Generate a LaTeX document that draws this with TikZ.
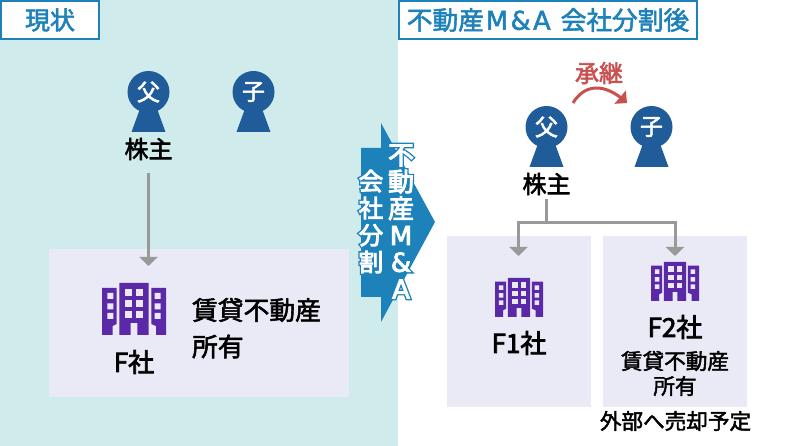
\documentclass[tikz,border=0pt]{standalone}
\usepackage{fontspec}
\usepackage{xcolor}
\usetikzlibrary{arrows.meta,bending}
\setmainfont{Noto Sans CJK JP}
\newfontfamily\latinwide{DejaVu Sans}
\definecolor{bgteal}{HTML}{D0EBEC}
\definecolor{frameblue}{HTML}{1E82BA}
\definecolor{boxlav}{HTML}{EAEAF6}
\definecolor{persblue}{HTML}{1F5C99}
\definecolor{bldpurple}{HTML}{5B28A8}
\definecolor{linegray}{HTML}{999999}
\definecolor{succred}{HTML}{C8504F}
% text drawn with a thin outline of its own colour, for a medium weight
\newcommand{\heavy}[2][0.55]{\special{pdf:code 2 Tr #1 w}#2\special{pdf:code 0 Tr}}
\tikzset{
  px/.style={inner sep=0pt,outer sep=0pt},
  lbl/.style={px,text=black,align=center},
  head/.style={px,fill=white,draw=frameblue,line width=2pt,text=frameblue,anchor=center},
  panel/.style={px,fill=boxlav,anchor=north west},
  perscircle/.style={circle,px,fill=persblue,text=white,minimum size=42pt,font=\fontsize{23}{23}\selectfont},
  flow/.style={draw=linegray,line width=3pt,-{Triangle[length=9pt,width=18pt]}},
  flowplain/.style={draw=linegray,line width=3pt},
  succ/.style={draw=succred,line width=3pt,-{Triangle[length=9pt,width=17pt]}},
  colword/.style={px,align=center,text=white},
}
\newcommand{\building}[3]{%
  \begin{scope}[shift={(#1,#2)},scale=#3]
    \fill[bldpurple] (0,5)--(14.7,5)--(14.7,41)--(10.7,43)--(10.7,52)--(0,52)--cycle;
    \fill[bldpurple] (17.3,0)--(46.7,0)--(46.7,52)--(35.3,52)--(35.3,40)--(28.7,40)--(28.7,52)--(17.3,52)--cycle;
    \fill[bldpurple] (49.3,5)--(64,5)--(64,52)--(54,52)--(54,43)--(49.3,41)--cycle;
    \fill[boxlav] (5.3,10) rectangle +(6,6) (5.3,20.3) rectangle +(6,6) (5.3,30) rectangle +(6,6);
    \fill[boxlav] (52.7,10) rectangle +(6,6) (52.7,20.3) rectangle +(6,6) (52.7,30) rectangle +(6,6);
    \foreach \cx in {23.3,34}{\foreach \cy in {6,17,28}{\fill[boxlav] (\cx,\cy) rectangle +(6.7,6.8);}}
  \end{scope}}
\newcommand{\personbody}[1]{\fill[persblue] ([xshift=-7.5pt,yshift=-14pt]#1.center) -- ([xshift=7.5pt,yshift=-14pt]#1.center) -- ([xshift=17pt,yshift=-40pt]#1.center) -- ([xshift=-17pt,yshift=-40pt]#1.center) -- cycle;}
\begin{document}
\begin{tikzpicture}[x=1pt,y=-1pt]
\useasboundingbox (0,0) rectangle (796,446);
\fill[white] (0,0) rectangle (796,446);
\fill[bgteal] (0,0) rectangle (398,446);
% headers
\node[head,minimum width=98pt,minimum height=38pt,font=\fontsize{25}{25}\selectfont] (hl) at (50,20) {\heavy{現状}};
\node[head,minimum width=298pt,minimum height=38pt,font=\fontsize{25.7}{25.7}\selectfont] (hr) at (548,20) {\heavy{不動産{\latinwide\kern2pt M\kern2.5pt\&\kern2.5pt A}\hspace{10pt}会社分割後}};
% panels
\node[panel,minimum width=300pt,minimum height=148pt] (fbox) at (49,249) {};
\node[panel,minimum width=144pt,minimum height=171pt] (fa) at (447,236) {};
\node[panel,minimum width=144pt,minimum height=171pt] (fb) at (603,236) {};
% persons left
\node[perscircle] (fl) at (148.5,92) {\heavy{父}};
\node[perscircle] (cl) at (253.5,92) {\heavy{子}};
\personbody{fl}\personbody{cl}
\node[lbl,font=\fontsize{24}{24}\selectfont] (kl) at (148.5,149) {\heavy{株主}};
% persons right
\node[perscircle] (fr) at (546.5,127) {\heavy{父}};
\node[perscircle] (cr) at (651.5,127) {\heavy{子}};
\personbody{fr}\personbody{cr}
\node[lbl,font=\fontsize{24}{24}\selectfont] (kr) at (546.5,184) {\heavy{株主}};
\node[lbl,text=succred,font=\fontsize{24}{24}\selectfont] (sk) at (599,73) {\heavy{承継}};
% connectors
\coordinate (a0) at (148.5,173);
\coordinate (a1) at (148.5,266);
\draw[flow] (a0) -- (a1);
\coordinate (b0) at (546.5,199);
\coordinate (b1) at (546.5,222.5);
\coordinate (b2) at (518.5,256);
\coordinate (b3) at (675,256);
\draw[flowplain] (b0) -- (b1);
\draw[flow] (b1) -| (b2);
\draw[flow] (b1) -| (b3);
\coordinate (s0) at (573,103);
\coordinate (s1) at (627,103);
\draw[succ] (s0) .. controls (585,83) and (606,83) .. (s1);
% buildings
\building{102}{283}{1}
\building{495}{278}{0.75}
\building{651}{262}{0.75}
% panel labels
\node[lbl,font=\fontsize{26}{26}\selectfont] (ft) at (134,362) {\heavy[0.75]{F社}};
\node[lbl,anchor=west,font=\fontsize{25.8}{25.8}\selectfont] (t1) at (192,310) {\heavy{賃貸不動産}};
\node[lbl,anchor=west,font=\fontsize{25.8}{25.8}\selectfont] (t2) at (192,346.5) {\heavy{所有}};
\node[lbl,font=\fontsize{26}{26}\selectfont] (f1) at (519,343) {\heavy[0.75]{F1社}};
\node[lbl,font=\fontsize{26}{26}\selectfont] (f2) at (675,327) {\heavy[0.75]{F2社}};
\node[lbl,font=\fontsize{21.6}{21.6}\selectfont] (t3) at (675,361) {\heavy[0.45]{賃貸不動産}};
\node[lbl,font=\fontsize{21.6}{21.6}\selectfont] (t4) at (675,386) {\heavy[0.45]{所有}};
\node[lbl,font=\fontsize{21.6}{21.6}\selectfont] (t5) at (675.5,421) {\heavy[0.45]{外部へ売却予定}};
% big arrow
\fill[frameblue] (361,148) -- (381,148) -- (381,123) -- (435,222) -- (381,322) -- (381,297) -- (361,297) -- cycle;
\node[colword,text=frameblue,font=\fontsize{26}{26.8}\selectfont] (w1h) at (401,221.5) {\heavy[3.6]{不\\動\\産\\{\latinwide M}\\{\latinwide\&}\\{\latinwide A}}};
\node[colword,font=\fontsize{26}{26.8}\selectfont] (w1) at (401,221.5) {\heavy[0.9]{不\\動\\産\\{\latinwide M}\\{\latinwide\&}\\{\latinwide A}}};
\node[colword,text=frameblue,font=\fontsize{24.5}{27}\selectfont] (w2h) at (371,221.5) {\heavy[3.6]{会\\社\\分\\割}};
\node[colword,font=\fontsize{24.5}{27}\selectfont] (w2) at (371,221.5) {\heavy[0.9]{会\\社\\分\\割}};
\end{tikzpicture}
\end{document}
